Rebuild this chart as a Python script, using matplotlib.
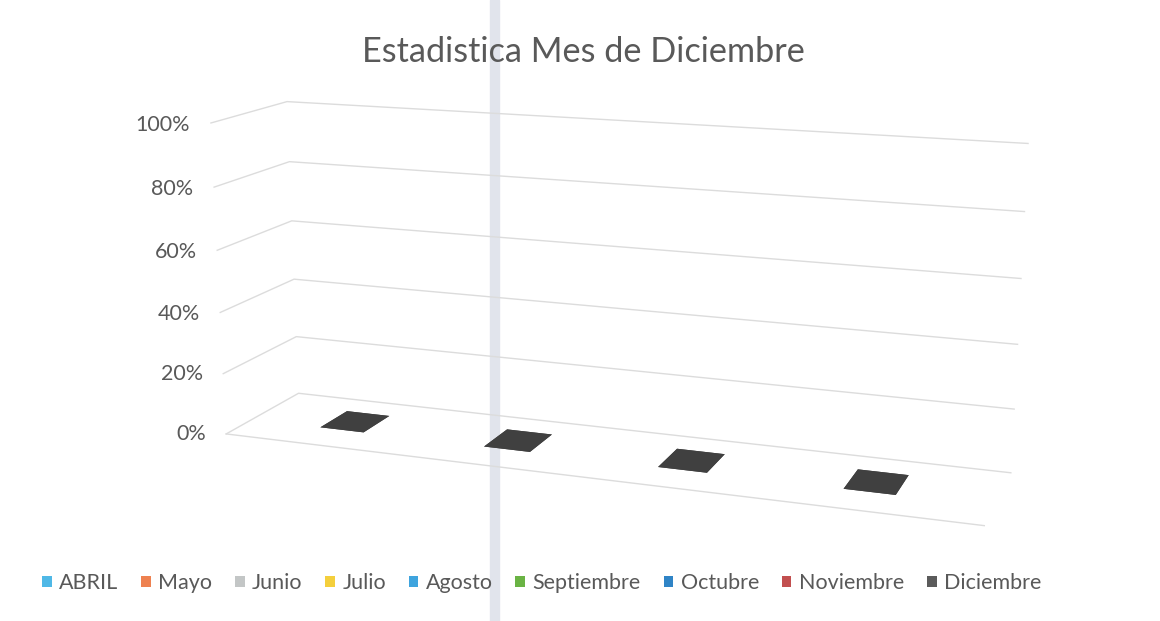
import matplotlib
matplotlib.use("Agg")
import matplotlib.pyplot as plt
from matplotlib.patches import Patch, Rectangle
import numpy as np

# Datos del grafico (todos los valores estan en 0%)
categorias = ["1", "2", "3", "4"]
series = ["ABRIL", "Mayo", "Junio", "Julio", "Agosto",
          "Septiembre", "Octubre", "Noviembre", "Diciembre"]
colores = ["#4fb8e6", "#ee8150", "#c3c6c6", "#f4cf3c", "#3ea4de",
           "#6ab344", "#2f84c6", "#c24f4f", "#5b5b5b"]
valores_diciembre = [0, 0, 0, 0]
niveles = [0.0, 0.2, 0.4, 0.6, 0.8, 1.0]
etiquetas_niveles = ["0%", "20%", "40%", "60%", "80%", "100%"]

plt.rcParams["font.family"] = ["Lato", "DejaVu Sans"]
gris_texto = "#595959"
gris_linea = "#dcdcdc"

fig = plt.figure(figsize=(11.6, 6.21), dpi=100)
fig.patch.set_facecolor("white")

# Banda vertical que dejo el escaneo
fig.add_artist(Rectangle((0.4225, 0), 0.0078, 1, transform=fig.transFigure,
                         color="#e1e4ec", zorder=0))

ax = fig.add_axes([0.032, 0.02, 0.968, 0.98], projection="3d")
ax.patch.set_alpha(0)
ax.set_proj_type("persp", focal_length=0.6)
ax.view_init(elev=14, azim=-70)
ax.set_box_aspect((5.06, 1, 2.1), zoom=1.394)

x = np.arange(len(categorias))
xmin, xmax = -0.57, len(categorias) - 0.37
ax.set_xlim(xmin, xmax)
ax.set_ylim(0, 1)
ax.set_zlim(0, 1)

# Ejes propios de mplot3d fuera (la cuadricula se dibuja a mano)
ax.set_xticks([])
ax.set_yticks([])
ax.set_zticks([])
for eje in (ax.xaxis, ax.yaxis, ax.zaxis):
    eje.label.set_visible(False)
    eje.offsetText.set_visible(False)
ax.set_axis_off()

# Cuadricula: pared izquierda + pared de fondo
for z in niveles:
    ax.plot([xmin, xmin, xmax], [0, 1, 1], [z, z, z], color=gris_linea,
            lw=1, clip_on=False)
# borde frontal del piso
ax.plot([xmin, xmax], [0, 0], [0, 0], color=gris_linea, lw=1, clip_on=False)

# Etiquetas del eje de valores
for z, t in zip(niveles, etiquetas_niveles):
    ax.text(xmin - 0.13, 0, z - 0.01, t, ha="right", va="center",
            fontsize=15.5, color=gris_texto)

# Barras de Diciembre (valor 0 -> solo se ve la cara superior)
dx, dy = 0.27, 0.39
bars = ax.bar3d(x - dx / 2, np.full(len(x), 0.54 - dy / 2), np.zeros(len(x)),
                dx, dy, valores_diciembre, color="#404040", shade=False)
bars.set_clip_on(False)

fig.text(0.503, 1 - 52 / 621, "Estadistica Mes de Diciembre",
         ha="center", va="center", fontsize=24.7, color=gris_texto)

handles = [Patch(facecolor=c, edgecolor="none") for c in colores]
fig.legend(handles, series, loc="center", bbox_to_anchor=(0.467, 0.061),
           ncol=9, frameon=False, fontsize=15.5, labelcolor=gris_texto,
           handlelength=0.45, handleheight=0.45, handletextpad=0.35,
           columnspacing=1.05)

fig.savefig("out.png", dpi=100)
